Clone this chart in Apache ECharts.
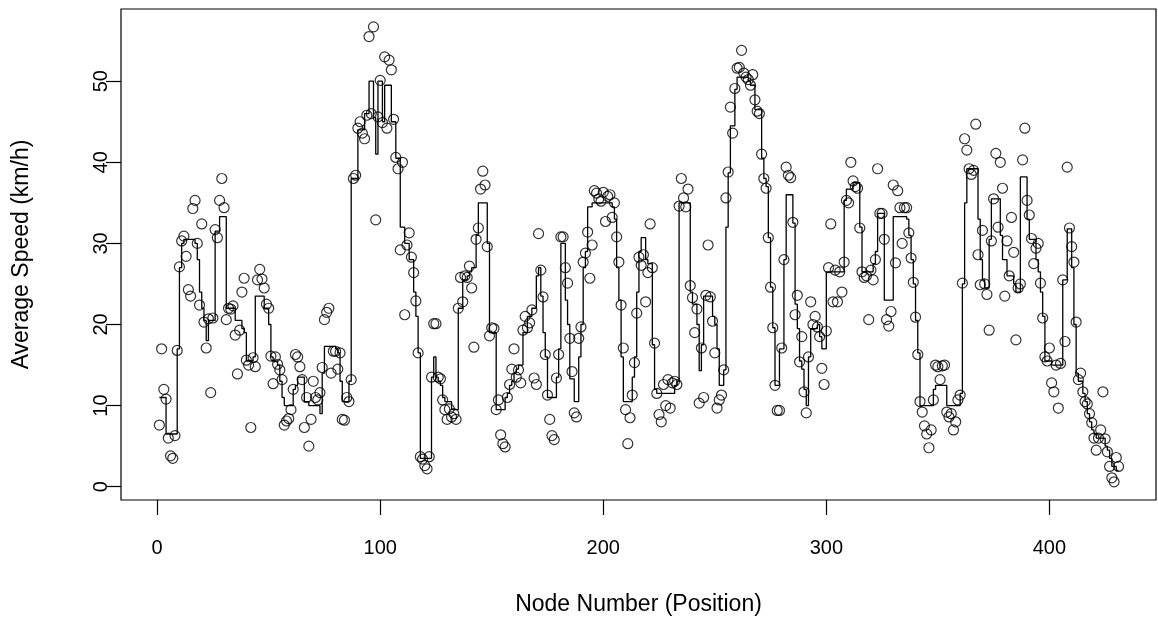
<!DOCTYPE html>
<html><head><meta charset="utf-8">
<script src="https://cdn.jsdelivr.net/npm/echarts@6/dist/echarts.min.js"></script>
<style>html,body{margin:0;padding:0;background:#fff}#c{width:1158px;height:622px}</style>
</head><body><div id="c"></div>
<script>
// Observed average speed at each node (km/h), node 1..N
const speed = [
 7.6,17.0,12.0,10.8,6.0,3.8,3.5,6.3,16.8,27.1,
 30.3,30.9,28.4,24.3,23.5,34.3,35.3,30.0,22.4,32.4,
 20.3,17.1,20.7,11.6,20.8,31.7,30.7,35.3,38.0,34.4,
 20.6,22.0,21.9,22.3,18.7,13.9,19.3,24.0,25.7,15.6,
 15.0,7.3,15.9,14.8,25.5,26.8,25.6,24.5,22.5,22.0,
 16.1,12.7,16.0,15.1,14.4,13.2,7.6,8.1,8.4,9.5,
 12.0,16.3,16.0,14.8,13.2,7.3,11.0,5.0,8.3,13.0,
 11.0,10.7,11.6,14.7,20.6,21.5,22.0,14.0,16.7,16.7,
 14.5,16.5,8.3,8.2,11.0,10.5,13.2,38.0,38.4,44.2,
 45.0,43.6,42.9,45.8,55.5,46.0,56.7,32.9,45.6,50.1,
 44.9,53.0,44.2,52.6,51.4,45.3,40.6,39.2,29.2,40.0,
 21.2,29.8,31.3,28.3,26.4,22.9,16.5,3.7,3.4,2.6,
 2.2,3.7,13.5,20.1,20.1,13.5,13.3,10.7,9.5,8.3,
 9.6,8.6,9.0,8.3,22.0,25.8,22.8,26.0,25.8,27.2,
 24.5,17.2,30.5,31.9,36.7,38.9,37.2,29.6,18.6,19.6,
 19.5,9.5,10.7,6.4,5.3,4.9,11.0,12.6,14.5,17.0,
 13.5,14.4,12.8,19.3,21.0,19.6,20.2,21.8,13.4,12.6,
 31.2,26.7,23.4,16.3,11.3,8.3,6.3,5.8,13.4,16.3,
 30.8,30.8,27.0,25.1,18.3,14.2,9.1,8.6,18.3,19.7,
 27.7,28.8,31.4,25.7,29.8,36.5,36.2,35.5,35.2,
 36.3,32.7,35.8,36.0,33.2,35.0,30.8,27.7,22.4,17.1,
 9.5,5.3,8.5,11.3,15.3,21.4,28.3,27.3,28.6,22.8,
 26.4,32.4,27.0,17.7,11.5,8.9,8.0,12.6,10.0,13.2,
 9.7,12.8,13.0,12.6,34.6,38.0,35.6,34.5,36.7,24.8,
 23.3,19.0,21.9,10.3,17.1,11.0,23.6,29.8,23.4,20.4,
 16.5,9.7,10.7,11.3,14.4,35.6,38.8,46.8,43.6,49.1,
 51.6,51.7,53.8,51.0,50.5,50.2,49.5,50.8,47.7,46.3,
 46.0,41.0,38.0,36.8,30.7,24.6,19.6,12.5,9.4,9.4,
 17.1,28.0,39.4,38.4,38.1,32.6,21.2,23.6,15.4,18.5,
 11.7,9.1,16.0,22.8,20.0,21.0,19.7,18.5,14.6,
 12.6,19.2,27.0,32.4,22.8,26.7,22.8,26.5,24.0,27.7,
 35.3,35.0,40.0,37.7,37.0,36.8,31.9,26.5,25.8,26.0,
 20.6,26.7,25.5,28.0,39.2,33.7,33.7,30.5,20.6,19.8,
 21.6,37.2,27.6,36.5,34.4,30.0,34.4,34.4,31.3,28.2,
 25.2,20.9,16.3,10.5,9.2,7.5,6.5,4.8,7.0,10.7,
 15.0,14.8,13.2,14.9,15.0,9.2,8.6,9.0,7.0,8.0,
 10.7,11.3,25.1,42.9,41.5,39.2,38.5,39.0,44.7,28.6,
 24.9,31.6,25.0,23.7,19.3,30.3,35.5,41.1,32.0,
 40.0,36.8,23.5,30.3,26.0,33.2,28.9,18.1,24.5,25.0,
 40.3,44.2,35.3,33.5,30.6,27.5,29.4,30.0,25.1,20.8,
 16.0,15.5,17.1,12.8,11.7,15.0,9.7,15.2,25.5,17.9,
 39.4,31.9,29.6,27.7,20.3,13.2,14.0,11.7,10.5,10.2,
 9.0,7.9,6.0,4.5,6.0,7.0,11.7,5.9,4.3,
 2.5,1.1,0.6,3.6,2.5
];
// Smoothed speed profile (stair-step line), node 1..N
const trend = [
 11,11,11,6.5,6.5,6.5,6.5,6.5,17,27,
 30,30.5,30.5,30.5,30.5,30.5,30,28,24,22,
 20.5,18,20.5,20.5,20.5,31.5,31.5,33.3,33.3,33.3,
 22,22,22,22,20.5,20.5,20.5,19.5,19,15.5,
 15.5,15.5,16,23.5,23.5,23.5,23.5,22,22,20,
 16,15.5,15.5,15,13,11,10,10,10,10,
 12,12.5,13.5,13.5,13.5,10.5,10.5,10,10,10,
 10,10,9,14,17.3,17.3,17.3,17.3,17.3,17,
 16.5,13,10.5,10.5,10.5,13,38,38,38,44,
 44,44,46,46,50,50,45.5,41,50,50,
 45,49.5,49.5,49.5,45,45,40.5,40.5,32,32,
 30,30,28,28,24,21,16.5,3.5,3.5,3.5,
 3.5,3.5,13.5,16,13.5,13,12.5,11,10.5,10.5,
 10.5,9.5,9.5,9.5,22,22,25.5,25.5,26,26.5,
 27,27,31,35,35,35,35,30,19,19,
 19,9.5,9.5,9.5,9.5,11,11.5,12.5,13,14,
 14.5,15,15,19,19,21,21,22,22,26,
 27,23.5,19,16,11,11,11,11,13.5,17,
 30,30,23,20,13.3,13.3,10.5,10.5,16,20,
 27,29,34.5,34.5,35,35,35,35,35,
 35,35,35,35,34.5,33,27,23,16,10.5,
 10.5,10.5,10.5,13.5,16,24,29,30.7,30.7,28,
 27.5,27.5,17.5,12,11.5,11.5,11.5,11.5,11.5,11.5,
 11.5,11.5,12.5,13,35,35,35,35,35,24,
 22.5,22.5,20,14.3,17.5,23.5,23.5,23.5,23.5,21,
 20,17,12.5,12.5,14.4,32,38.7,44.5,44.5,49,
 50.5,50.5,50.5,50.5,50.5,50,49.5,49.5,46.5,46.5,
 46.5,40.5,38,37,30.7,24.6,19.6,12.5,12.5,17,
 17,28,36,36,36,32.5,22.5,19.5,15.5,14.5,
 12,10,16,19.5,19.5,19.5,20,18.5,17,
 17,26.5,26.5,26.5,26.5,26.5,26.5,26.5,26.5,35.3,
 36.7,36.7,36.7,37.5,37.5,37.5,32,26.5,26.5,26.5,
 26.5,26.5,27.5,29,33.7,33.7,33.7,23,23,23,
 23,33.3,33.3,33.3,33.3,33.3,33.3,33,31,28,
 25,20.5,16.5,10,10,10,10,10,10,12,
 12.5,12.5,12.5,12.5,12.5,10,10,10,10,10,
 10,11.5,25,35,39.2,39.2,39.2,39.2,39.2,33,
 28,25.5,24.5,24.5,30.5,35.5,35.5,35.5,35.5,
 31,28,28,26,26,26,25,24,24,38.2,
 38.2,38.2,33,30.5,30.5,30.5,28,26.5,24,21,
 15.5,15.5,15.5,15,15,15,15,15,25.5,25.5,
 31.8,31.8,27,20,14,13,13,11.5,10.5,9,
 8,7,6.5,6,6,6,6,5,4.5,
 3.5,2.5,2.5,2,2
];
const xTicks = [0, 100, 200, 300, 400];
const yTicks = [0, 10, 20, 30, 40, 50];
const xTitle = 'Node Number (Position)';
const yTitle = 'Average Speed (km/h)';

const pts = speed.map((v, i) => [i + 1, v]);
const stepPts = trend.map((v, i) => [i + 1, v]);
const FONT = '"Liberation Sans", Arial, sans-serif';

const chart = echarts.init(document.getElementById('c'), null, {renderer: 'canvas'});
chart.setOption({
  animation: false,
  backgroundColor: '#ffffff',
  grid: {left: 121, right: 2, top: 9, bottom: 122, show: true, borderColor: '#000', borderWidth: 1.2, backgroundColor: 'transparent'},
  xAxis: {
    type: 'value', min: -16.2, max: 447.8,
    axisLine: {show: false, onZero: false}, splitLine: {show: false},
    axisTick: {show: true, inside: false, length: 15, lineStyle: {color: '#000', width: 1.2}, customValues: xTicks},
    axisLabel: {customValues: xTicks, color: '#000', fontSize: 20, margin: 38, fontFamily: FONT},
    name: xTitle, nameLocation: 'middle', nameGap: 93,
    nameTextStyle: {color: '#000', fontSize: 23, fontFamily: FONT}
  },
  yAxis: {
    type: 'value', min: -1.64, max: 58.9,
    axisLine: {show: false, onZero: false}, splitLine: {show: false},
    axisTick: {show: true, inside: false, length: 15, lineStyle: {color: '#000', width: 1.2}, customValues: yTicks},
    axisLabel: {customValues: yTicks, color: '#000', fontSize: 20, margin: 10, rotate: 90, fontFamily: FONT},
    name: yTitle, nameLocation: 'middle', nameGap: 88, nameRotate: 90,
    nameTextStyle: {color: '#000', fontSize: 23, fontFamily: FONT}
  },
  series: [
    {type: 'line', data: stepPts, step: 'end', symbol: 'none', silent: true,
     lineStyle: {color: '#000', width: 1.3}, z: 2},
    {type: 'scatter', data: pts, symbol: 'circle', symbolSize: 10, silent: true,
     itemStyle: {color: 'rgba(0,0,0,0)', borderColor: '#000', borderWidth: 1.2}, z: 3}
  ]
});
</script></body></html>
